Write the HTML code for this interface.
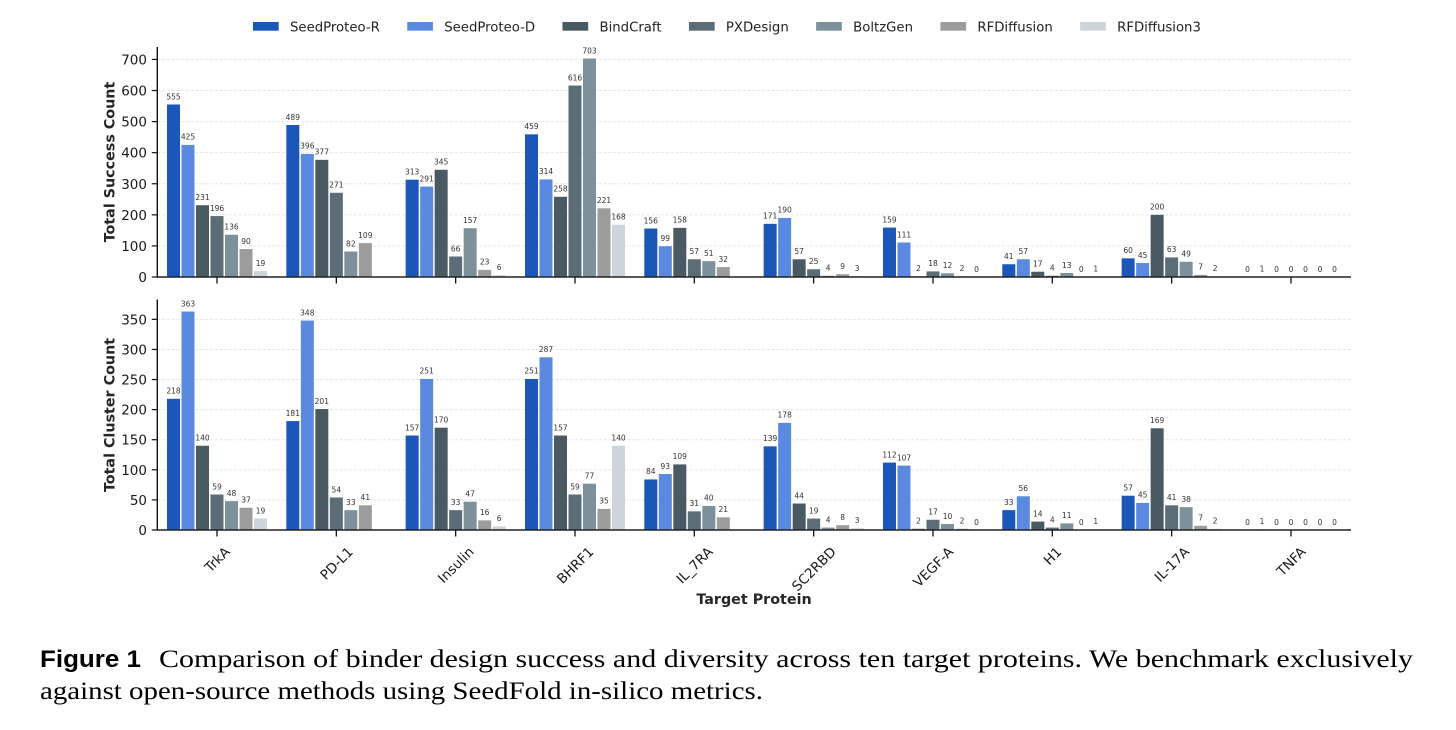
<!DOCTYPE html>
<html lang="en">
<head>
<meta charset="utf-8">
<title>Figure 1 binder design benchmark</title>
<style>
  html, body { margin: 0; padding: 0; background: #fff; width: 1456px; height: 730px; overflow: hidden; }
  svg { display: block; }
  text { font-family: "DejaVu Sans", "Liberation Sans", sans-serif; }
  .caption-serif { font-family: "Liberation Serif", serif; font-size: 25.5px; fill: #000; }
  .caption-bold { font-family: "Liberation Sans", sans-serif; font-size: 24.5px; font-weight: 700; fill: #000; }
</style>
</head>
<body>
<svg id="chart" xmlns="http://www.w3.org/2000/svg" width="1456" height="730" viewBox="0 0 1456 730">
  <rect x="0" y="0" width="1456" height="730" fill="#ffffff"/>
  <g id="legend"></g>
  <g id="panel-success"></g>
  <g id="panel-cluster"></g>
  <text x="754" y="604" text-anchor="middle" font-size="14.3" font-weight="700" fill="#262626">Target Protein</text>
  <g>
    <text class="caption-bold" x="40" y="667" textLength="101" lengthAdjust="spacingAndGlyphs">Figure 1</text>
    <text class="caption-serif" x="159" y="667" textLength="1254" lengthAdjust="spacingAndGlyphs">Comparison of binder design success and diversity across ten target proteins. We benchmark exclusively</text>
    <text class="caption-serif" x="40" y="699" textLength="723" lengthAdjust="spacingAndGlyphs">against open-source methods using SeedFold in-silico metrics.</text>
  </g>
</svg>
<script>
// ---- Chart data ----
const categories = ['TrkA', 'PD-L1', 'Insulin', 'BHRF1', 'IL_7RA', 'SC2RBD', 'VEGF-A', 'H1', 'IL-17A', 'TNFA'];
const methods = ['SeedProteo-R', 'SeedProteo-D', 'BindCraft', 'PXDesign', 'BoltzGen', 'RFDiffusion', 'RFDiffusion3'];
const methodColors = ['#1a57b8', '#5a8ae0', '#4a5a62', '#5b6d76', '#7d919c', '#9c9c9c', '#ced5da'];

const successSeedProteoR = [555, 489, 313, 459, 156, 171, 159, 41, 60, 0];
const successSeedProteoD = [425, 396, 291, 314, 99, 190, 111, 57, 45, 1];
const successBindCraft = [231, 377, 345, 258, 158, 57, 2, 17, 200, 0];
const successPXDesign = [196, 271, 66, 616, 57, 25, 18, 4, 63, 0];
const successBoltzGen = [136, 82, 157, 703, 51, 4, 12, 13, 49, 0];
const successRFDiffusion = [90, 109, 23, 221, 32, 9, 2, 0, 7, 0];
const successRFDiffusion3 = [19, null, 6, 168, null, 3, 0, 1, 2, 0];

const clusterSeedProteoR = [218, 181, 157, 251, 84, 139, 112, 33, 57, 0];
const clusterSeedProteoD = [363, 348, 251, 287, 93, 178, 107, 56, 45, 1];
const clusterBindCraft = [140, 201, 170, 157, 109, 44, 2, 14, 169, 0];
const clusterPXDesign = [59, 54, 33, 59, 31, 19, 17, 4, 41, 0];
const clusterBoltzGen = [48, 33, 47, 77, 40, 4, 10, 11, 38, 0];
const clusterRFDiffusion = [37, 41, 16, 35, 21, 8, 2, 0, 7, 0];
const clusterRFDiffusion3 = [19, null, 6, 140, null, 3, 0, 1, 2, 0];

const successTicks = [0, 100, 200, 300, 400, 500, 600, 700];
const clusterTicks = [0, 50, 100, 150, 200, 250, 300, 350];

const successSeries = [successSeedProteoR, successSeedProteoD, successBindCraft, successPXDesign, successBoltzGen, successRFDiffusion, successRFDiffusion3];
const clusterSeries = [clusterSeedProteoR, clusterSeedProteoD, clusterBindCraft, clusterPXDesign, clusterBoltzGen, clusterRFDiffusion, clusterRFDiffusion3];

// ---- Layout and axis functions ----
const SVG_NS = 'http://www.w3.org/2000/svg';
const plotLeft = 157.3;
const plotRight = 1351;
const firstGroupX = 217;
const groupStep = 119.33;
const barStep = 14.5;
const barWidth = 13;

function groupCenter(groupIndex) {
  return firstGroupX + groupIndex * groupStep;
}
function barCenter(groupIndex, seriesIndex) {
  return groupCenter(groupIndex) + (seriesIndex - (methods.length - 1) / 2) * barStep;
}
function makeYScale(top, bottom, domainMax) {
  return function (value) {
    return bottom - (value / domainMax) * (bottom - top);
  };
}
function make(tag, parent) {
  const node = document.createElementNS(SVG_NS, tag);
  parent.appendChild(node);
  return node;
}
function setAll(node, attrs) {
  Object.keys(attrs).forEach(function (key) { node.setAttribute(key, attrs[key]); });
}

function drawPanel(parent, slug, title, titleY, series, ticks, top, bottom, domainMax, showCategoryLabels) {
  const y = makeYScale(top, bottom, domainMax);

  ticks.forEach(function (tick) {
    if (tick !== 0) {
      const grid = make('line', parent);
      
      
      setAll(grid, { x1: plotLeft, x2: plotRight, y1: y(tick), y2: y(tick), stroke: '#e6e6e6', 'stroke-width': 1, 'stroke-dasharray': '3 1.8' });
    }
  });

  series.forEach(function (values, seriesIndex) {
    values.forEach(function (value, groupIndex) {
      if (value === null) return;
      const bar = make('rect', parent);
      
      
      setAll(bar, {
        x: barCenter(groupIndex, seriesIndex) - barWidth / 2,
        y: y(value),
        width: barWidth,
        height: Math.max(0, bottom - y(value)),
        fill: methodColors[seriesIndex]
      });
      const label = make('text', parent);
      
      
      setAll(label, {
        x: barCenter(groupIndex, seriesIndex),
        y: y(value) - 5.2,
        'text-anchor': 'middle',
        'font-size': 7.5,
        fill: '#333333'
      });
      label.textContent = String(value);
    });
  });

  const leftSpine = make('line', parent);
  
  
  setAll(leftSpine, { x1: plotLeft, x2: plotLeft, y1: top, y2: bottom + 0.7, stroke: '#111111', 'stroke-width': 1.4 });

  const bottomSpine = make('line', parent);
  
  
  setAll(bottomSpine, { x1: plotLeft, x2: plotRight, y1: bottom, y2: bottom, stroke: '#222222', 'stroke-width': 1.4 });

  ticks.forEach(function (tick) {
    const mark = make('line', parent);
    
    
    setAll(mark, { x1: plotLeft - 5.5, x2: plotLeft, y1: y(tick), y2: y(tick), stroke: '#111111', 'stroke-width': 1.2 });

    const tickLabel = make('text', parent);
    
    
    setAll(tickLabel, { x: 147, y: y(tick) + 5, 'text-anchor': 'end', 'font-size': 13.5, fill: '#1a1a1a' });
    tickLabel.textContent = String(tick);
  });

  categories.forEach(function (name, groupIndex) {
    const mark = make('line', parent);
    
    
    setAll(mark, { x1: groupCenter(groupIndex), x2: groupCenter(groupIndex), y1: bottom, y2: bottom + 6.5, stroke: '#111111', 'stroke-width': 1.3 });

    if (showCategoryLabels) {
      const catLabel = make('text', parent);
      
      
      setAll(catLabel, { 'text-anchor': 'middle', 'font-size': 13.5, fill: '#1a1a1a' });
      catLabel.textContent = name;
      const textWidth = catLabel.getComputedTextLength();
      const centerY = bottom + 14.5 + (textWidth + 13) * 0.7071 / 2;
      const cx = groupCenter(groupIndex);
      setAll(catLabel, { x: cx, y: centerY + 5, transform: 'rotate(-45 ' + cx + ' ' + centerY + ')' });
    }
  });

  const yTitle = make('text', parent);
  
  
  setAll(yTitle, {
    x: 114.5, y: titleY, 'text-anchor': 'middle', 'font-size': 14.3, 'font-weight': 700, fill: '#262626',
    transform: 'rotate(-90 114.5 ' + titleY + ')'
  });
  yTitle.textContent = title;
}

function drawLegend(parent) {
  let cursor = 253;
  methods.forEach(function (name, index) {
    const swatch = make('rect', parent);
    
    
    setAll(swatch, { x: cursor, y: 22, width: 25.7, height: 8.7, fill: methodColors[index] });

    const entry = make('text', parent);
    
    
    setAll(entry, { x: cursor + 37, y: 31.3, 'font-size': 13.25, fill: '#222222' });
    entry.textContent = name;
    cursor += 37 + entry.getComputedTextLength() + 27.4;
  });
}

drawLegend(document.getElementById('legend'));
drawPanel(document.getElementById('panel-success'), 'success', 'Total Success Count', 162, successSeries, successTicks, 47, 277, 740, false);
drawPanel(document.getElementById('panel-cluster'), 'cluster', 'Total Cluster Count', 415, clusterSeries, clusterTicks, 299.5, 530, 383, true);
</script>
</body>
</html>
